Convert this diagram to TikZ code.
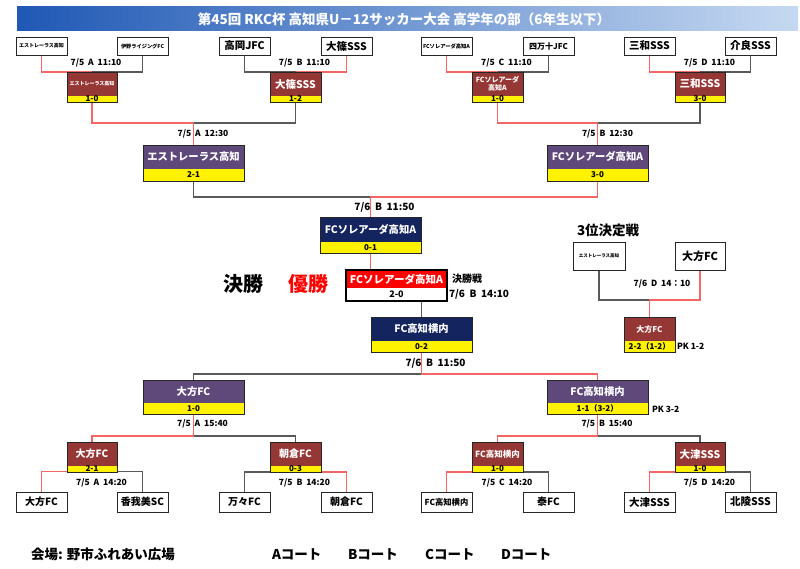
\documentclass[tikz,border=0pt]{standalone}
\usepackage{fontspec}
\setmainfont{Noto Sans CJK JP}
\usetikzlibrary{shadows,fit,calc,backgrounds}
\definecolor{dkred}{HTML}{953735}
\definecolor{purp}{HTML}{5F497A}
\definecolor{navy}{HTML}{14245E}
\definecolor{lnred}{HTML}{F26666}
\definecolor{lngray}{HTML}{595959}
\definecolor{bord}{HTML}{262626}
\definecolor{ttl}{HTML}{1F58B5}
\definecolor{ttr}{HTML}{C6D9F1}
\newcommand\myfs[1]{\fontsize{#1}{#1}\selectfont}
\begin{document}
\begin{tikzpicture}[x=1pt,y=-1pt,
  every node/.style={inner sep=0pt, outer sep=0pt},
  shadowed/.style={drop shadow={shadow xshift=1pt, shadow yshift=-1pt, fill=black!45, opacity=1}},
  team/.style={draw=bord, line width=0.7pt, fill=white, minimum width=51pt, minimum height=18pt,
    anchor=north west, shadowed, align=center, font=\bfseries\myfs{#1}},
  bteam/.style={team=#1, minimum height=20pt},
  top/.style={fill=#1, text=white, anchor=north west, shadowed, align=center},
  score/.style={fill=yellow, text=black, anchor=north, shadowed, minimum width=#1pt, font=\bfseries\myfs{8}},
  frame/.style={fit=#1, draw=bord, line width=0.7pt, inner sep=0pt},
  rl/.style={draw=lnred, line width=1.1pt},
  gl/.style={draw=lngray, line width=1.1pt},
  dt/.style={font=\bfseries\myfs{#1}, text=black}
]
\useasboundingbox (0,0) rectangle (800,569);
% title
\shade[left color=ttl, right color=ttr] (17,7) rectangle (798,31);
\node[text=white, font=\bfseries\myfs{13.5}] (title) at (404,19) {第45回 RKC杯 高知県U－12サッカー大会 高学年の部（6年生以下）};

% top teams
\node[team=5] (t1) at (16,37) {エストレーラス高知};
\node[team=5.2] (t2) at (117,37) {伊野ライジングFC};
\node[team=10.5] (t3) at (219,37) {高岡JFC};
\node[team=10.5] (t4) at (321,37) {大篠SSS};
\node[team=5.3] (t5) at (421,37) {FCソレアーダ高知A};
\node[team=8] (t6) at (523,37) {四万十JFC};
\node[team=10.5] (t7) at (624,37) {三和SSS};
\node[team=10.5] (t8) at (725,37) {介良SSS};

% top round 1 winners
\node[top=dkred, minimum width=50pt, minimum height=24pt, font=\bfseries\myfs{5}] (w1) at (67,72) {エストレーラス高知};
\node[score=50] (w1s) at (w1.south) {1-0};
\node[frame={(w1)(w1s)}] (w1f) {};
\node[top=dkred, minimum width=51pt, minimum height=24pt, font=\bfseries\myfs{10.5}] (w2) at (270,72) {大篠SSS};
\node[score=51] (w2s) at (w2.south) {1-2};
\node[frame={(w2)(w2s)}] (w2f) {};
\node[top=dkred, minimum width=51pt, minimum height=24pt, font=\bfseries\myfs{7}] (w3) at (472,72) {FCソレアーダ\\[1pt]高知A};
\node[score=51] (w3s) at (w3.south) {1-0};
\node[frame={(w3)(w3s)}] (w3f) {};
\node[top=dkred, minimum width=50pt, minimum height=24pt, font=\bfseries\myfs{10.5}] (w4) at (675,72) {三和SSS};
\node[score=50] (w4s) at (w4.south) {3-0};
\node[frame={(w4)(w4s)}] (w4f) {};

% semis top
\node[top=purp, minimum width=101pt, minimum height=24pt, font=\bfseries\myfs{10.3}] (p1) at (143,145) {エストレーラス高知};
\node[score=101, minimum height=12pt] (p1s) at (p1.south) {2-1};
\node[frame={(p1)(p1s)}] (p1f) {};
\node[top=purp, minimum width=101pt, minimum height=24pt, font=\bfseries\myfs{10.3}] (p2) at (547,145) {FCソレアーダ高知A};
\node[score=101, minimum height=12pt] (p2s) at (p2.south) {3-0};
\node[frame={(p2)(p2s)}] (p2f) {};

% navy 1
\node[top=navy, minimum width=101pt, minimum height=25pt, font=\bfseries\myfs{10.3}] (n1) at (320,217) {FCソレアーダ高知A};
\node[score=101, minimum height=11pt] (n1s) at (n1.south) {0-1};
\node[frame={(n1)(n1s)}] (n1f) {};

% final
\node[top=red, minimum width=101pt, minimum height=18pt, font=\bfseries\myfs{10.5}] (fin) at (346,270) {FCソレアーダ高知A};
\node[score=101, fill=white, minimum height=13pt, font=\bfseries\myfs{9}] (fins) at (fin.south) {2-0};
\node[frame={(fin)(fins)}, line width=1.5pt, draw=black] (finf) {};

% navy 2
\node[top=navy, minimum width=101pt, minimum height=24pt, font=\bfseries\myfs{10.3}] (n2) at (371,317) {FC高知横内};
\node[score=101, minimum height=11pt] (n2s) at (n2.south) {0-2};
\node[frame={(n2)(n2s)}] (n2f) {};

% semis bottom
\node[top=purp, minimum width=101pt, minimum height=23pt, font=\bfseries\myfs{10.3}] (q1) at (143,380) {大方FC};
\node[score=101, minimum height=11pt] (q1s) at (q1.south) {1-0};
\node[frame={(q1)(q1s)}] (q1f) {};
\node[top=purp, minimum width=101pt, minimum height=23pt, font=\bfseries\myfs{10.3}] (q2) at (547,380) {FC高知横内};
\node[score=101, minimum height=11pt] (q2s) at (q2.south) {1-1（3-2）};
\node[frame={(q2)(q2s)}] (q2f) {};

% bottom round 1 winners
\node[top=dkred, minimum width=50pt, minimum height=24pt, font=\bfseries\myfs{10}] (b1) at (67,442) {大方FC};
\node[score=50] (b1s) at (b1.south) {2-1};
\node[frame={(b1)(b1s)}] (b1f) {};
\node[top=dkred, minimum width=51pt, minimum height=24pt, font=\bfseries\myfs{10}] (b2) at (270,442) {朝倉FC};
\node[score=51] (b2s) at (b2.south) {0-3};
\node[frame={(b2)(b2s)}] (b2f) {};
\node[top=dkred, minimum width=51pt, minimum height=24pt, font=\bfseries\myfs{8.5}] (b3) at (472,442) {FC高知横内};
\node[score=51] (b3s) at (b3.south) {1-0};
\node[frame={(b3)(b3s)}] (b3f) {};
\node[top=dkred, minimum width=50pt, minimum height=24pt, font=\bfseries\myfs{10.5}] (b4) at (675,442) {大津SSS};
\node[score=50] (b4s) at (b4.south) {1-0};
\node[frame={(b4)(b4s)}] (b4f) {};

% bottom teams
\node[bteam=10] (u1) at (16,492) {大方FC};
\node[bteam=10] (u2) at (117,492) {香我美SC};
\node[bteam=10] (u3) at (219,492) {万々FC};
\node[bteam=10] (u4) at (321,492) {朝倉FC};
\node[bteam=8.3] (u5) at (421,492) {FC高知横内};
\node[bteam=10] (u6) at (523,492) {泰FC};
\node[bteam=10.5] (u7) at (624,492) {大津SSS};
\node[bteam=10.5] (u8) at (725,492) {北陵SSS};

% third place
\node[team=4.5, minimum width=52pt, minimum height=28pt] (s1) at (573,242) {エストレーラス高知};
\node[team=11, minimum width=50pt, minimum height=28pt] (s2) at (675,242) {大方FC};
\node[top=dkred, minimum width=51pt, minimum height=24pt, font=\bfseries\myfs{8}] (s3) at (624,317) {大方FC};
\node[score=51, minimum height=11pt] (s3s) at (s3.south) {2-2（1-2）};
\node[frame={(s3)(s3s)}] (s3f) {};

% connectors
\begin{scope}[on background layer]
\draw[gl] (t2.south) |- (w1.north);
\draw[rl] (t1.south) |- (w1.north);
\draw[gl] (t3.south) |- (w2.north);
\draw[rl] (t4.south) |- (w2.north);
\draw[gl] (t6.south) |- (w3.north);
\draw[rl] (t5.south) |- (w3.north);
\draw[gl] (t8.south) |- (w4.north);
\draw[rl] (t7.south) |- (w4.north);

\coordinate (j1) at ($(p1.north)+(0,-22)$);
\draw[gl] (w2s.south) |- (j1);
\draw[rl] (w1s.south) |- (j1) -- (p1.north);
\coordinate (j2) at ($(p2.north)+(0,-22)$);
\draw[gl] (w4s.south) |- (j2);
\draw[rl] (w3s.south) |- (j2) -- (p2.north);

\coordinate (j3) at ($(n1.north)+(0,-20)$);
\draw[gl] (p1s.south) |- (j3);
\draw[rl] (p2s.south) |- (j3) -- (n1.north);

\draw[rl] (n1s.south) -- (n1s.south |- fin.north);
\draw[gl] (n2.north) -- (n2.north |- fins.south);

\coordinate (j4) at ($(n2s.south)+(0,22)$);
\draw[gl] (q1.north) |- (j4);
\draw[rl] (q2.north) |- (j4) -- (n2s.south);

\coordinate (j5) at ($(q1s.south)+(0,22)$);
\draw[gl] (b2.north) |- (j5);
\draw[rl] (b1.north) |- (j5) -- (q1s.south);
\coordinate (j6) at ($(q2s.south)+(0,22)$);
\draw[gl] (b4.north) |- (j6);
\draw[rl] (b3.north) |- (j6) -- (q2s.south);

\draw[gl] (u2.north) |- (b1s.south);
\draw[rl] (u1.north) |- (b1s.south);
\draw[gl] (u3.north) |- (b2s.south);
\draw[rl] (u4.north) |- (b2s.south);
\draw[gl] (u6.north) |- (b3s.south);
\draw[rl] (u5.north) |- (b3s.south);
\draw[gl] (u8.north) |- (b4s.south);
\draw[rl] (u7.north) |- (b4s.south);

\coordinate (j7) at ($(s3.north)+(0,-17)$);
\draw[gl] (s1.south) |- (j7);
\draw[rl] (s2.south) |- (j7) -- (s3.north);
\end{scope}

% labels
\node[dt=8.5] (lA) at (96,63) {7/5\ \ A\ \ 11:10};
\node[dt=8.5] (lB) at (304.5,63) {7/5\ \ B\ \ 11:10};
\node[dt=8.5] (lC) at (506.5,63) {7/5\ \ C\ \ 11:10};
\node[dt=8.5] (lD) at (709.5,63) {7/5\ \ D\ \ 11:10};
\node[dt=8.5] (lsA) at (203,134) {7/5\ \ A\ \ 12:30};
\node[dt=8.5] (lsB) at (607.5,134) {7/5\ \ B\ \ 12:30};
\node[dt=10] (lf1) at (384.5,207) {7/6\ \ B\ \ 11:50};
\node[dt=10, anchor=west] (lfin) at (452,279) {決勝戦};
\node[dt=10, anchor=west] (lfint) at (449,294) {7/6\ \ B\ \ 14:10};
\node[dt=20] (kessho) at (243.5,284) {決勝};
\node[dt=20, text=red] (yusho) at (308,284) {優勝};
\node[dt=10] (lf2) at (435.5,363) {7/6\ \ B\ \ 11:50};
\node[dt=8.5] (lqA) at (202.5,424) {7/5\ \ A\ \ 15:40};
\node[dt=8.5] (lqB) at (607,424) {7/5\ \ B\ \ 15:40};
\node[dt=8.5, anchor=west] (pk1) at (652,409) {PK 3-2};
\node[dt=8.5, anchor=west] (pk2) at (677,346) {PK 1-2};
\node[dt=8.5] (lbA) at (101.5,483) {7/5\ \ A\ \ 14:20};
\node[dt=8.5] (lbB) at (304.5,483) {7/5\ \ B\ \ 14:20};
\node[dt=8.5] (lbC) at (507,483) {7/5\ \ C\ \ 14:20};
\node[dt=8.5] (lbD) at (709.5,483) {7/5\ \ D\ \ 14:20};
\node[dt=13.5, anchor=west] (third) at (577,230) {3位決定戦};
\node[dt=8.5] (lth) at (662,284) {7/6\ \ D\ \ 14：10};
\node[dt=13.5, anchor=west] (venue) at (31,554) {会場: 野市ふれあい広場};
\node[dt=13.5, anchor=west] (cA) at (272,554) {Aコート};
\node[dt=13.5, anchor=west] (cB) at (348,554) {Bコート};
\node[dt=13.5, anchor=west] (cC) at (425,554) {Cコート};
\node[dt=13.5, anchor=west] (cD) at (501,554) {Dコート};
\end{tikzpicture}
\end{document}
